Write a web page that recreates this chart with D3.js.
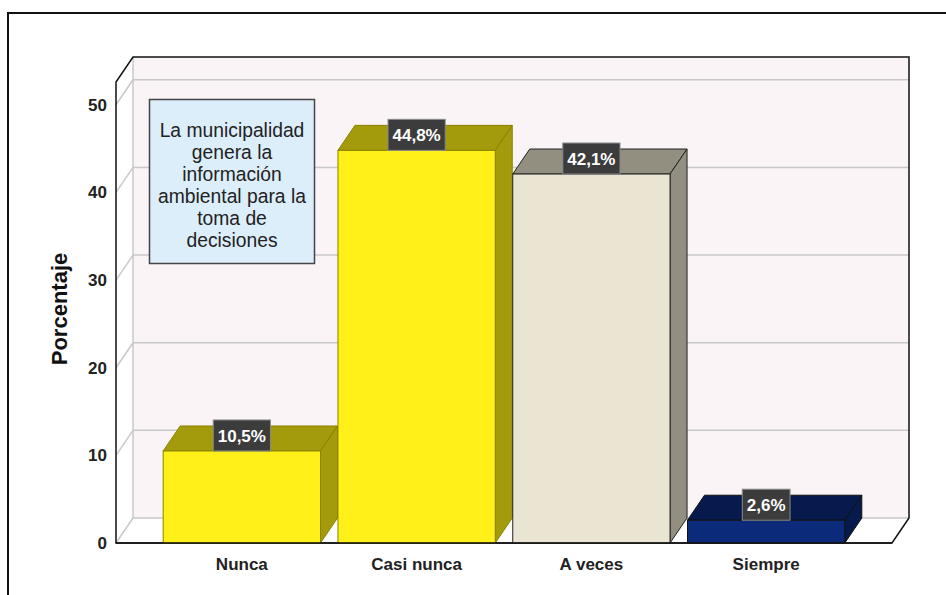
<!DOCTYPE html>
<html lang="es">
<head>
<meta charset="UTF-8">
<title>Porcentaje</title>
<script src="https://d3js.org/d3.v7.min.js"></script>
<style>
    body { margin: 0; background: #fff; }
    .tick-y text { font: bold 17px "Liberation Sans", Arial, sans-serif; fill: #222; }
    .tick-x text { font: bold 17px "Liberation Sans", Arial, sans-serif; fill: #222; }
    .note { font: 19.3px "Liberation Sans", Arial, sans-serif; fill: #222; }
    .val { font: bold 17px "Liberation Sans", Arial, sans-serif; fill: #fff; }
</style>
</head>
<body>
<svg width="946" height="595"></svg>
<script>
const categories = ["Nunca", "Casi nunca", "A veces", "Siempre"];
const values = [10.5, 44.8, 42.1, 2.6];
const valueLabels = ["10,5%", "44,8%", "42,1%", "2,6%"];
const yTicks = [0, 10, 20, 30, 40, 50];
const noteLines = ["La municipalidad", "genera la", "información", "ambiental para la", "toma de", "decisiones"];
const frontColors = ["#fff01a", "#fff01a", "#eae4d3", "#0b2a79"];
const sideColors = ["#a39a0c", "#a39a0c", "#928f80", "#071a4d"];
const edgeColors = ["#8a8200", "#8a8200", "#222", "#111"];

const svg = d3.select("svg");

// outer frame (cut off at right and bottom)
svg.append("rect")
    .attr("x", 8).attr("y", 13)
    .attr("width", 980).attr("height", 620)
    .attr("fill", "#fff").attr("stroke", "#111").attr("stroke-width", 2);

// plot geometry
const plotLeft = 116, plotRight = 892, base = 543;
const dx = 17, dy = 25;

const y = d3.scaleLinear().domain([0, 52.6]).range([base, 82]);
const x = d3.scaleBand().domain(categories).range([plotLeft, plotRight])
    .paddingInner(0.1).paddingOuter(0.27);

const yTop = y(52.6);

// back wall
svg.append("rect")
    .attr("x", plotLeft + dx).attr("y", yTop - dy)
    .attr("width", plotRight - plotLeft).attr("height", base - yTop)
    .attr("fill", "#faf4f6");

// grid lines: back wall + left wall diagonals
const grid = svg.append("g").attr("stroke", "#c8c8c8").attr("stroke-width", 1.5);
yTicks.forEach(t => {
    grid.append("line")
        .attr("x1", plotLeft + dx).attr("x2", plotRight + dx)
        .attr("y1", y(t) - dy).attr("y2", y(t) - dy);
    grid.append("line")
        .attr("x1", plotLeft).attr("x2", plotLeft + dx)
        .attr("y1", y(t)).attr("y2", y(t) - dy);
});
grid.append("line")
    .attr("x1", plotLeft + dx).attr("x2", plotLeft + dx)
    .attr("y1", yTop - dy).attr("y2", base - dy);

// frame edges
const edges = svg.append("g").attr("stroke", "#111").attr("stroke-width", 1.5).attr("fill", "none");
edges.append("path")
    .attr("d", `M${plotLeft},${base}V${yTop}L${plotLeft + dx},${yTop - dy}H${plotRight + dx}V${base - dy}L${plotRight},${base}Z`);

// note box
const note = svg.append("g");
note.append("rect")
    .attr("x", 149.5).attr("y", 99.5).attr("width", 165).attr("height", 164)
    .attr("fill", "#ddeefb").attr("stroke", "#444").attr("stroke-width", 1.5);
note.selectAll("text")
    .data(noteLines)
    .join("text")
    .attr("class", "note")
    .attr("x", 232)
    .attr("y", (d, i) => 137 + i * 22)
    .attr("text-anchor", "middle")
    .text(d => d);

// bars
const data = categories.map((c, i) => ({cat: c, v: values[i], lab: valueLabels[i], i}));
const bw = x.bandwidth();

const bars = svg.append("g").selectAll("g")
    .data(data)
    .join("g");

bars.append("path") // top face
    .attr("d", d => {
        const x0 = x(d.cat), x1 = x0 + bw, yt = y(d.v);
        return `M${x0},${yt}L${x0 + dx},${yt - dy}H${x1 + dx}L${x1},${yt}Z`;
    })
    .attr("fill", d => sideColors[d.i])
    .attr("stroke", d => edgeColors[d.i]).attr("stroke-width", 1);

bars.append("path") // side face
    .attr("d", d => {
        const x1 = x(d.cat) + bw, yt = y(d.v);
        return `M${x1},${yt}L${x1 + dx},${yt - dy}V${base - dy}L${x1},${base}Z`;
    })
    .attr("fill", d => sideColors[d.i])
    .attr("stroke", d => edgeColors[d.i]).attr("stroke-width", 1);

bars.append("rect") // front face
    .attr("x", d => x(d.cat)).attr("y", d => y(d.v))
    .attr("width", bw).attr("height", d => base - y(d.v))
    .attr("fill", d => frontColors[d.i])
    .attr("stroke", d => edgeColors[d.i]).attr("stroke-width", 1);

// value labels
bars.each(function(d) {
    const g = d3.select(this);
    const cx = x(d.cat) + bw / 2;
    const t = g.append("text")
        .attr("class", "val")
        .attr("x", cx).attr("y", y(d.v) - 9)
        .attr("text-anchor", "middle")
        .text(d.lab);
    const w = t.node().getComputedTextLength() + 9;
    g.insert("rect", "text")
        .attr("x", cx - w / 2).attr("y", y(d.v) - 31)
        .attr("width", w).attr("height", 31)
        .attr("fill", "#3c3c3c").attr("stroke", "#8a8a8a").attr("stroke-width", 1);
});

// bottom front edge on top of bars
svg.append("line")
    .attr("x1", plotLeft).attr("x2", plotRight)
    .attr("y1", base).attr("y2", base)
    .attr("stroke", "#111").attr("stroke-width", 1.5);

// axes
svg.append("g")
    .attr("class", "tick-y")
    .attr("transform", `translate(${plotLeft},0)`)
    .call(d3.axisLeft(y).tickValues(yTicks).tickSize(0).tickPadding(9))
    .call(g => g.select(".domain").remove());

svg.append("g")
    .attr("class", "tick-x")
    .attr("transform", `translate(0,${base})`)
    .call(d3.axisBottom(x).tickSize(0).tickPadding(15))
    .call(g => g.select(".domain").remove());

svg.selectAll(".tick-y text, .tick-x text").attr("fill", null);

svg.append("text")
    .attr("transform", "translate(67,309) rotate(-90)")
    .attr("text-anchor", "middle")
    .style("font", "bold 22px 'Liberation Sans', Arial, sans-serif")
    .attr("fill", "#111")
    .text("Porcentaje");
</script>
</body>
</html>
